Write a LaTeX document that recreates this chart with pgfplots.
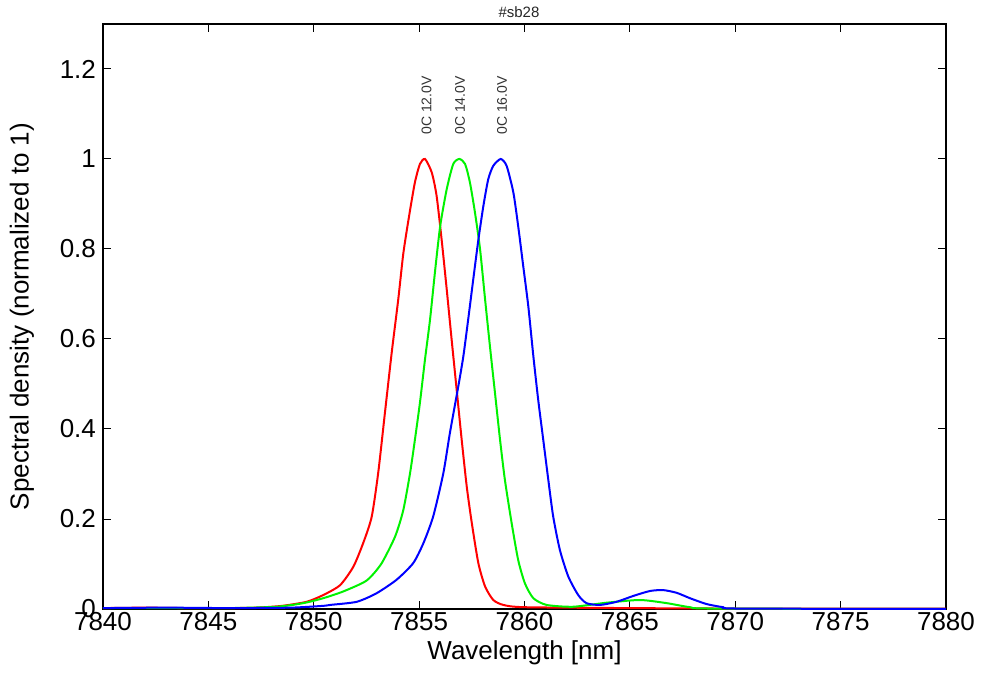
\documentclass[border=0pt]{standalone}
\usepackage{pgfplots}
\pgfplotsset{compat=1.18}
\usepackage{fontspec}
\setmainfont{Liberation Sans}
\begin{document}
\begin{tikzpicture}
\path[use as bounding box] (-51.5pt,-33pt) rectangle (441.5pt,304.5pt);
\begin{axis}[
  at={(0pt,0pt)}, anchor=south west,
  scale only axis, width=421.5pt, height=292.5pt,
  xmin=7840, xmax=7880, ymin=0, ymax=1.3,
  xtick={7840,7845,...,7880},
  ytick={0,0.2,0.4,0.6,0.8,1,1.2},
  tick align=inside, tick pos=both,
  major tick length=4.2pt,
  /pgf/number format/assume math mode=true,
  /pgf/number format/1000 sep={},
  tick label style={font=\fontsize{13}{15}\selectfont},
  xticklabel style={yshift=2pt},
  label style={font=\fontsize{13}{15}\selectfont},
  xlabel={Wavelength [nm]},
  ylabel={Spectral density (normalized to 1)},
  xlabel style={at={(axis description cs:0.5,-0.0752)}, anchor=center},
  ylabel style={at={(axis description cs:-0.0961,0.5)}, anchor=center},
  axis line style={line width=0.6pt},
  every tick/.style={black, line width=0.5pt},
  clip=true,
]
\addplot[red, line width=1pt, smooth, tension=0.4] coordinates {
(7840,0.002) (7842,0.003) (7844,0.002) (7846,0.002) (7847.3,0.003) (7848.5,0.007)
(7849.66,0.016) (7850.45,0.031) (7851.25,0.053) (7851.88,0.094) (7852.35,0.147)
(7852.75,0.205) (7853.06,0.303) (7853.38,0.437) (7853.70,0.57) (7854.01,0.688)
(7854.25,0.79) (7854.52,0.872) (7854.80,0.948) (7855.04,0.989) (7855.28,1.0)
(7855.6,0.97) (7855.83,0.918) (7856.07,0.82) (7856.31,0.71) (7856.54,0.60)
(7856.78,0.488) (7857.02,0.376) (7857.26,0.272) (7857.5,0.191) (7857.81,0.102)
(7858.13,0.05) (7858.52,0.02) (7859.0,0.009) (7860,0.004) (7865,0.002) (7870,0.001) (7880,0.001)
};
\addplot[color={rgb,1:red,0;green,0.95;blue,0}, line width=1pt, smooth, tension=0.4] coordinates {
(7840,0.002) (7844,0.002) (7846,0.002) (7848.24,0.005) (7849.5,0.013) (7850.45,0.024)
(7851.4,0.039) (7852.5,0.063) (7853.2,0.1) (7853.86,0.161) (7854.25,0.22)
(7854.57,0.302) (7854.8,0.376) (7855.04,0.459) (7855.28,0.555) (7855.52,0.644)
(7855.75,0.748) (7856.0,0.851) (7856.31,0.933) (7856.62,0.989) (7856.91,1.0)
(7857.18,0.989) (7857.41,0.948) (7857.65,0.881) (7857.89,0.80) (7858.13,0.688)
(7858.36,0.584) (7858.6,0.48) (7858.84,0.376) (7859.07,0.287) (7859.39,0.191)
(7859.70,0.109) (7860.02,0.057) (7860.42,0.024) (7861.05,0.009) (7862.3,0.005)
(7863.9,0.014) (7865.48,0.02) (7866.75,0.013) (7867.85,0.004) (7868.94,0.001) (7880,0.0)
};
\addplot[blue, line width=1pt, smooth, tension=0.4] coordinates {
(7840,0.002) (7843,0.003) (7846,0.002) (7848.9,0.003) (7850.45,0.007) (7850.77,0.009)
(7852.04,0.016) (7852.98,0.035) (7853.93,0.065) (7854.72,0.102) (7855.2,0.146)
(7855.67,0.206) (7856.15,0.302) (7856.46,0.391) (7856.86,0.495) (7857.1,0.562)
(7857.33,0.644) (7857.57,0.733) (7857.81,0.82) (7858.05,0.896) (7858.28,0.955)
(7858.52,0.985) (7858.87,1.0) (7859.15,0.985) (7859.47,0.926) (7859.7,0.851)
(7859.94,0.762) (7860.18,0.673) (7860.42,0.562) (7860.65,0.465) (7860.89,0.376)
(7861.13,0.287) (7861.36,0.206) (7861.68,0.131) (7862.08,0.072) (7862.55,0.031)
(7862.94,0.013) (7863.58,0.009) (7864.37,0.016) (7865.16,0.029) (7865.95,0.04)
(7866.58,0.042) (7867.22,0.036) (7867.85,0.024) (7868.64,0.011) (7869.43,0.004)
(7870.2,0.001) (7880,0.0)
};
\node[rotate=90, anchor=west, inner sep=0pt, font=\fontsize{7}{8}\selectfont, text=black!80] at (axis cs:7855.35,1.053) {0C 12.0V};
\node[rotate=90, anchor=west, inner sep=0pt, font=\fontsize{7}{8}\selectfont, text=black!80] at (axis cs:7856.94,1.053) {0C 14.0V};
\node[rotate=90, anchor=west, inner sep=0pt, font=\fontsize{7}{8}\selectfont, text=black!80] at (axis cs:7858.93,1.053) {0C 16.0V};
\end{axis}
\node[font=\fontsize{7.5}{9}\selectfont, text=black!85] at (208pt,298.5pt) {\#sb28};
\end{tikzpicture}
\end{document}
